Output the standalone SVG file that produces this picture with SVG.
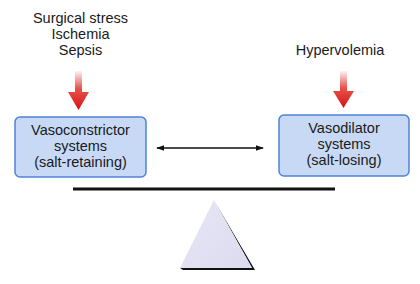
<svg xmlns="http://www.w3.org/2000/svg" width="420" height="284" viewBox="0 0 420 284">
<defs>
<linearGradient id="red" x1="0" y1="0" x2="0" y2="1">
<stop offset="0" stop-color="#e02020" stop-opacity="0.05"/>
<stop offset="0.45" stop-color="#e02a20" stop-opacity="0.8"/>
<stop offset="1" stop-color="#d81010"/>
</linearGradient>
<marker id="ah" viewBox="0 0 10 10" refX="9" refY="5" markerWidth="8" markerHeight="8" orient="auto-start-reverse" markerUnits="userSpaceOnUse">
<path d="M0,1.5 L10,5 L0,8.5 Z" fill="#111"/>
</marker>
<linearGradient id="tri" x1="0" y1="0" x2="1" y2="1">
<stop offset="0" stop-color="#e6e6f6"/>
<stop offset="1" stop-color="#dcdcef"/>
</linearGradient>
</defs>
<style>
text{font-family:"Liberation Sans",Arial,sans-serif;font-size:14.5px;fill:#1a1a1a;text-anchor:middle}
.box{fill:#c8d9f6;stroke:#4f82d8;stroke-width:1.5}
</style>
<rect width="420" height="284" fill="#ffffff"/>
<g id="causes-left">
<text x="80.5" y="23">Surgical stress</text>
<text x="80.5" y="39">Ischemia</text>
<text x="80.5" y="55">Sepsis</text>
</g>
<g id="cause-right">
<text x="340" y="55">Hypervolemia</text>
</g>
<g id="connectors">
<path d="M75,71 H82 V92 H89 L78.5,110 L68,92 H75 Z" fill="url(#red)"/>
<path d="M340,71 H347 V91 H354 L343.5,108 L333,91 H340 Z" fill="url(#red)"/>
<line x1="157" y1="148" x2="263" y2="148" stroke="#111" stroke-width="1.4" marker-start="url(#ah)" marker-end="url(#ah)"/>
</g>
<g id="vasoconstrictor">
<rect class="box" x="15" y="117" width="131" height="60" rx="5"/>
<text x="80.5" y="135">Vasoconstrictor</text>
<text x="80.5" y="151">systems</text>
<text x="80.5" y="167">(salt-retaining)</text>
</g>
<g id="vasodilator">
<rect class="box" x="279" y="115" width="130" height="61" rx="5"/>
<text x="344" y="133">Vasodilator</text>
<text x="344" y="149">systems</text>
<text x="344" y="165">(salt-losing)</text>
</g>
<g id="balance">
<line x1="73" y1="189" x2="335" y2="189" stroke="#111" stroke-width="3"/>
<path d="M215,202 L255,270 L183,270 L180,268 L252,268 Z" fill="#111"/>
<path d="M214,200 L252,268 L180,268 Z" fill="url(#tri)"/>
</g>
</svg>
